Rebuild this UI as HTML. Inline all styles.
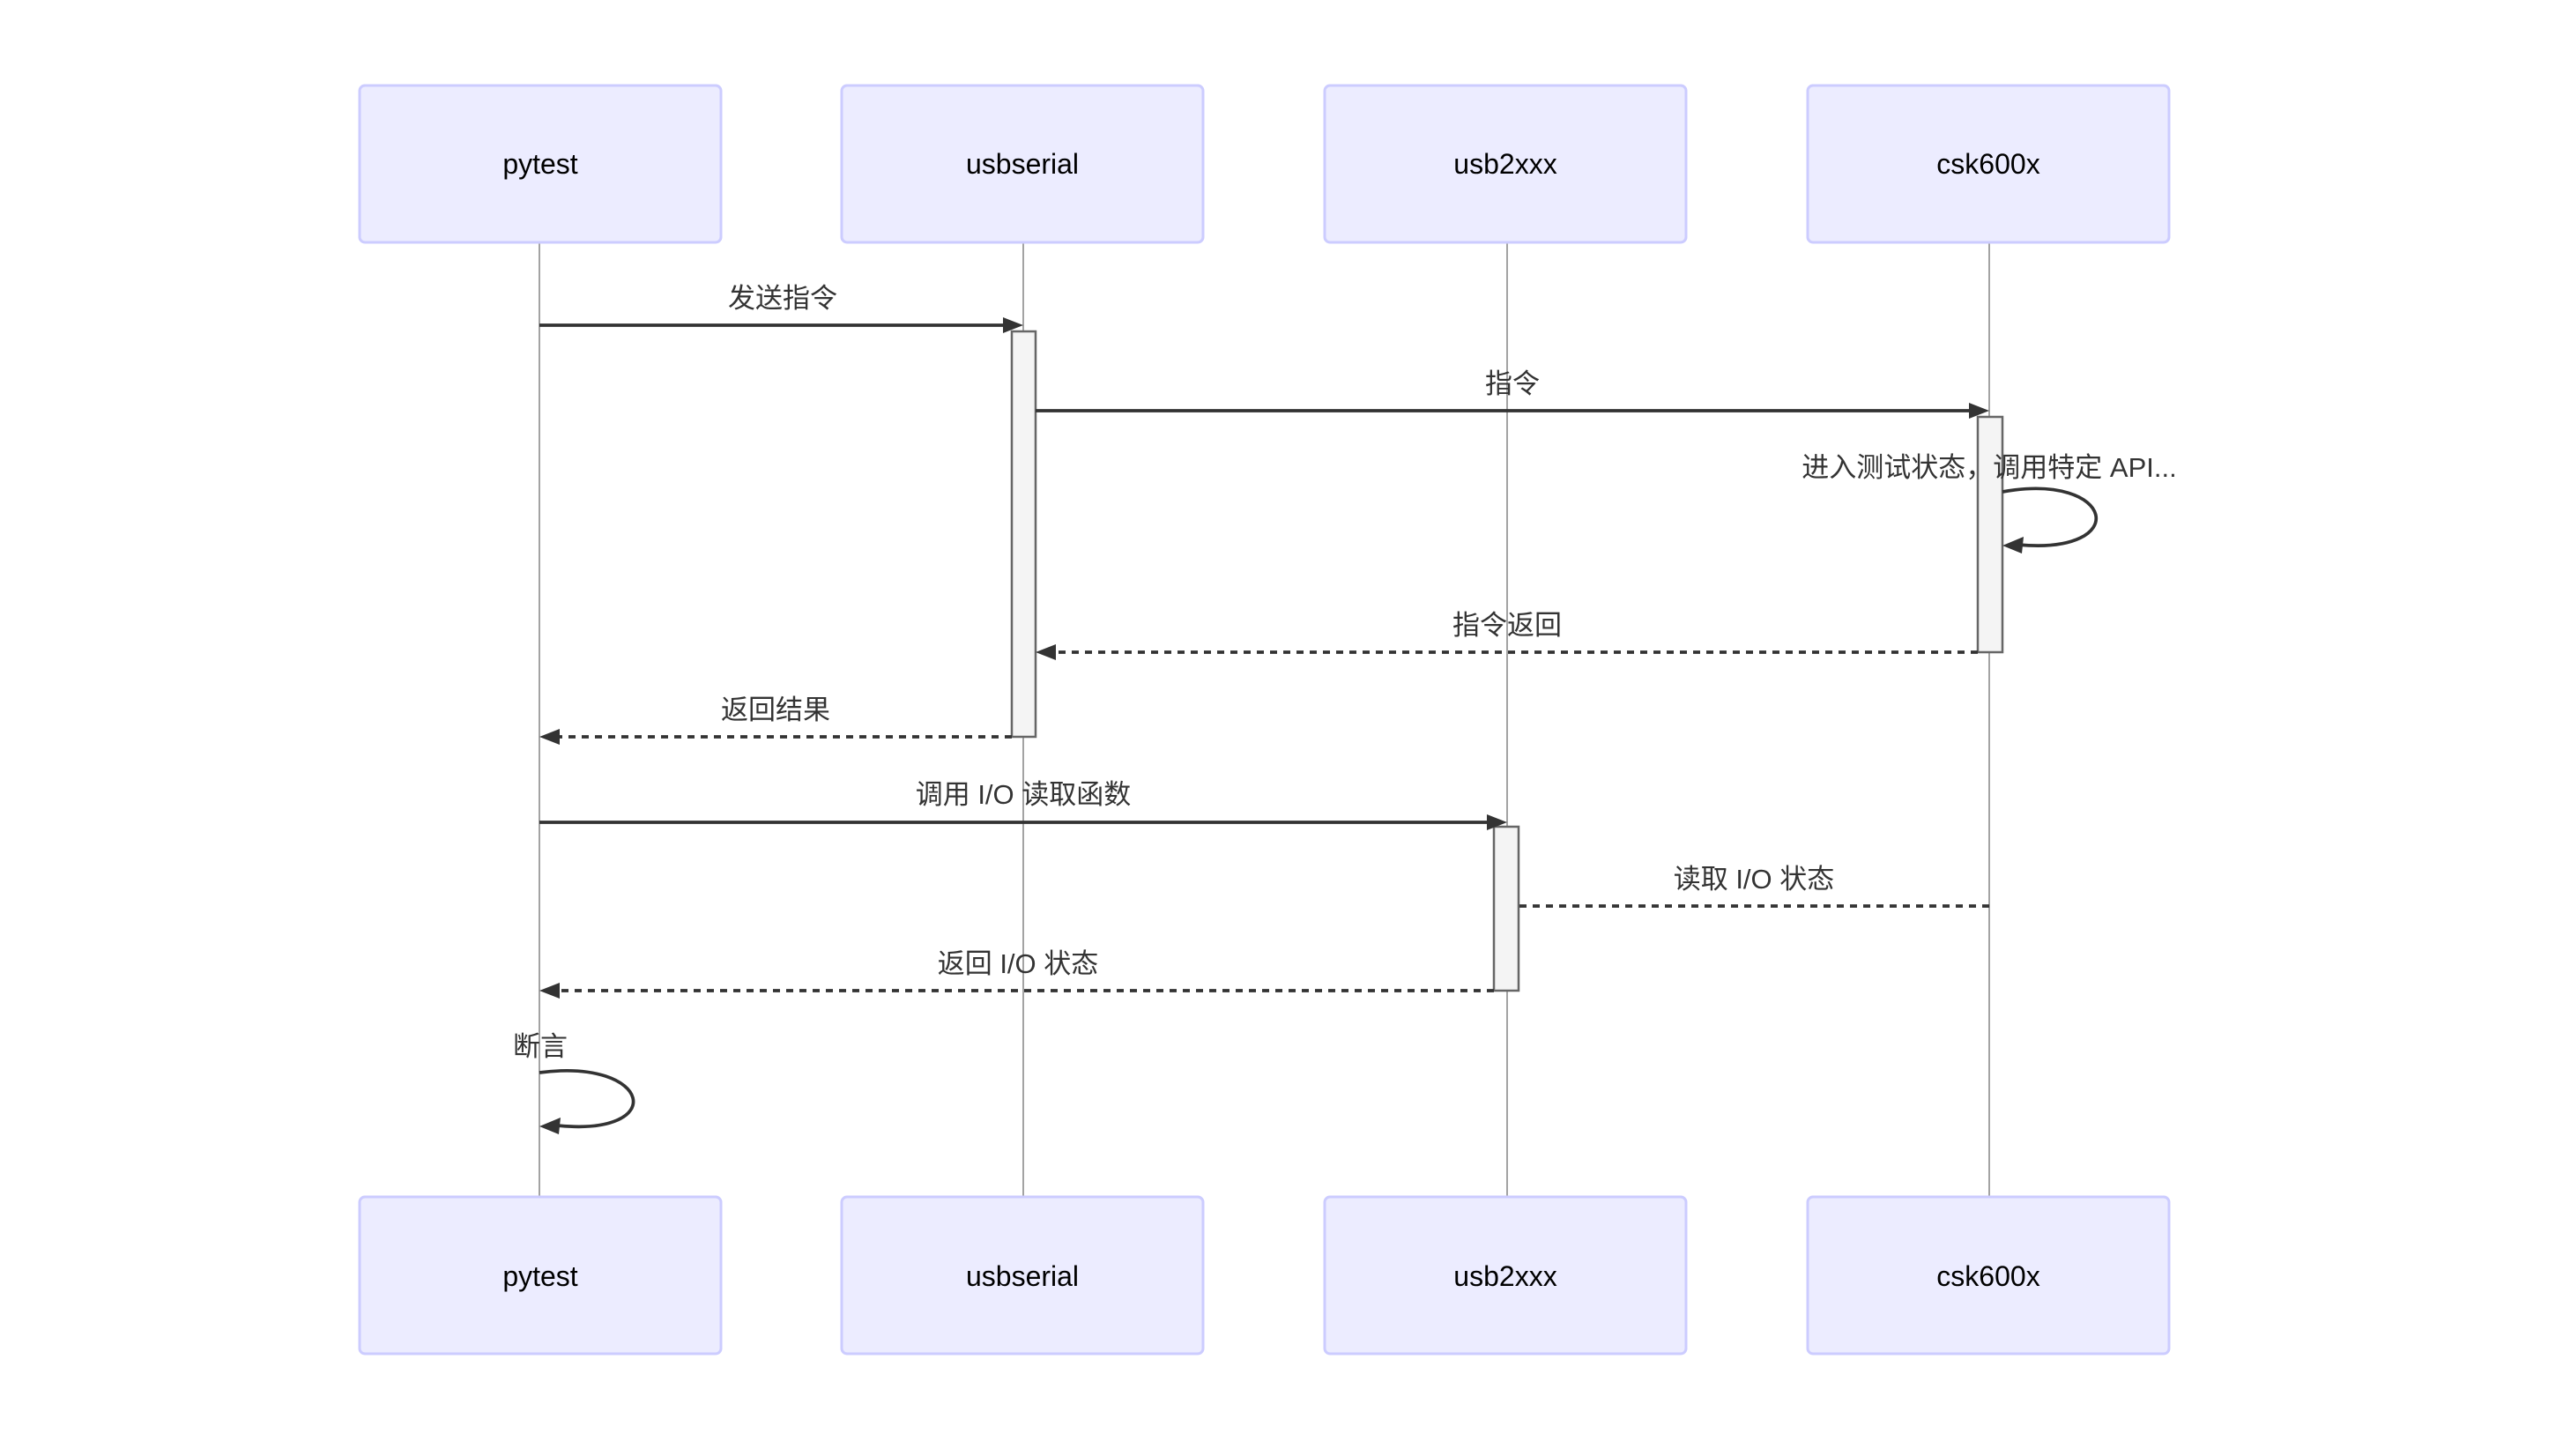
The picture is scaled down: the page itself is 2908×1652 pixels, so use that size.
<!DOCTYPE html>
<html><head><meta charset="utf-8"><style>
html,body{margin:0;padding:0;background:#fff;}
svg{display:block;}
text{font-family:"Liberation Sans","Noto Sans CJK SC",sans-serif;fill:#333;}
.actor{font-size:32px;fill:#000;}
.msg{font-size:31px;}
</style></head><body>
<svg width="2908" height="1652" viewBox="0 0 2908 1652" xmlns="http://www.w3.org/2000/svg">
<defs>
<marker id="ah" markerWidth="12" markerHeight="12" refX="11" refY="6" orient="auto" markerUnits="userSpaceOnUse" viewBox="0 0 12 12">
</marker>
</defs>
<g stroke="#999" stroke-width="1.8">
<line x1="612" y1="274" x2="612" y2="1358"/>
<line x1="1161" y1="274" x2="1161" y2="1358"/>
<line x1="1710" y1="274" x2="1710" y2="1358"/>
<line x1="2257" y1="274" x2="2257" y2="1358"/>
</g>
<g fill="#ECECFF" stroke="#CCCCFF" stroke-width="3">
<rect x="408" y="97" width="410" height="178" rx="6"/>
<rect x="955" y="97" width="410" height="178" rx="6"/>
<rect x="1503" y="97" width="410" height="178" rx="6"/>
<rect x="2051" y="97" width="410" height="178" rx="6"/>
<rect x="408" y="1358" width="410" height="178" rx="6"/>
<rect x="955" y="1358" width="410" height="178" rx="6"/>
<rect x="1503" y="1358" width="410" height="178" rx="6"/>
<rect x="2051" y="1358" width="410" height="178" rx="6"/>
</g>
<g class="actor" text-anchor="middle">
<text x="613" y="197" class="actor">pytest</text>
<text x="1160" y="197" class="actor">usbserial</text>
<text x="1708" y="197" class="actor">usb2xxx</text>
<text x="2256" y="197" class="actor">csk600x</text>
<text x="613" y="1459" class="actor">pytest</text>
<text x="1160" y="1459" class="actor">usbserial</text>
<text x="1708" y="1459" class="actor">usb2xxx</text>
<text x="2256" y="1459" class="actor">csk600x</text>
</g>
<g fill="#f4f4f4" stroke="#666" stroke-width="2.5">
<rect x="1148" y="376" width="27" height="460"/>
<rect x="2244" y="473" width="28" height="267"/>
<rect x="1695" y="938" width="28" height="186"/>
</g>
<g stroke="#333" stroke-width="3.7" fill="none">
<line x1="612" y1="369" x2="1140" y2="369"/>
<line x1="1175" y1="466" x2="2236" y2="466"/>
<line x1="2244" y1="740" x2="1195" y2="740" stroke-dasharray="8,7"/>
<line x1="1148" y1="836" x2="632" y2="836" stroke-dasharray="8,7"/>
<line x1="612" y1="933" x2="1690" y2="933"/>
<line x1="2257" y1="1028" x2="1723" y2="1028" stroke-dasharray="8,7"/>
<line x1="1695" y1="1124" x2="632" y2="1124" stroke-dasharray="8,7"/>
<path d="M2272 558 C2400 535 2420 630 2290 618"/>
<path d="M612 1217 C740 1200 760 1290 632 1277"/>
</g>
<g fill="#333">
<polygon points="1161,369 1138,360 1138,378"/>
<polygon points="2257,466 2234,457 2234,475"/>
<polygon points="1175,740 1198,731 1198,749"/>
<polygon points="612,836 635,827 635,845"/>
<polygon points="1710,933 1687,924 1687,942"/>
<polygon points="612,1124 635,1115 635,1133"/>
<polygon points="2272,619 2296,609 2294,628"/>
<polygon points="612,1278 636,1268 634,1287"/>
</g>
<g class="msg" text-anchor="middle">
<text x="888" y="349" class="msg">发送指令</text>
<text x="1716" y="446" class="msg">指令</text>
<text x="2257" y="541" class="msg">进入测试状态，调用特定 API...</text>
<text x="1710" y="720" class="msg">指令返回</text>
<text x="880" y="816" class="msg">返回结果</text>
<text x="1161" y="912" class="msg">调用 I/O 读取函数</text>
<text x="1990" y="1008" class="msg">读取 I/O 状态</text>
<text x="1155" y="1104" class="msg">返回 I/O 状态</text>
<text x="613" y="1198" class="msg">断言</text>
</g>
</svg>
</body></html>
